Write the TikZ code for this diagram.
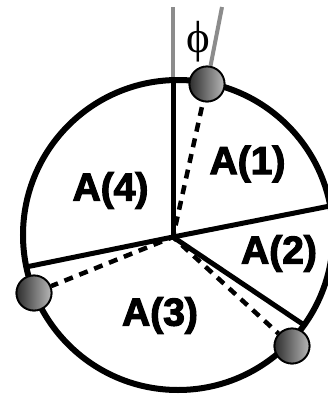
\documentclass[tikz,border=0pt]{standalone}
\usepackage{fontspec}
\setmainfont{Liberation Sans}
\newfontfamily\phifont{Liberation Serif}
\font\labfnt="Liberation Sans/B:embolden=3" at 39pt
\begin{document}
\begin{tikzpicture}[x=1pt,y=-1pt,
  rim/.style={line width=6pt,black},
  spoke/.style={line width=5pt,black},
  dashline/.style={line width=4.5pt,black,dash pattern=on 9pt off 7pt},
  greyline/.style={line width=4pt,black!45},
  ballnode/.style={circle,draw=black,line width=1.8pt,minimum size=35pt,inner sep=0pt,
    left color=black!82,right color=black!28},
  lab/.style={font=\labfnt,inner sep=0pt,anchor=center}]
\useasboundingbox (0,0) rectangle (328,400);
\fill[white] (0,0) rectangle (328,400);
% coordinates
\coordinate (c) at (178,235);
\coordinate (hub) at (173,237);
\coordinate (rtop) at (173,80);
\coordinate (rright) at (330,206);
\coordinate (rleft) at (26,267);
\coordinate (rlow) at (304,325);
\coordinate (g1) at (173,7);
\coordinate (g2) at (222,7);
% grey lines
\draw[greyline] (g1) -- (rtop);
% rim
\draw[rim] (c) circle[radius=155];
% spokes
\draw[spoke] (hub) -- (rtop);
\draw[spoke] (hub) -- (rright);
\draw[spoke] (hub) -- (rleft);
\draw[spoke] (hub) -- (rlow);
% balls (positions)
\path (207,84) node[ballnode] (b1) {};
\path (34,293) node[ballnode] (b2) {};
\path (292,346) node[ballnode] (b3) {};
\draw[greyline] (g2) -- (b1);
\draw[dashline,dash phase=4pt] (hub) -- (b1);
\draw[dashline,dash phase=4pt] (hub) -- (b2);
\draw[dashline,dash phase=4pt] (hub) -- (b3);
% redraw balls on top
\path (207,84) node[ballnode] {};
\path (34,293) node[ballnode] {};
\path (292,346) node[ballnode] {};
% labels
\node[lab] (a1) at (247.5,164) {A(1)};
\node[lab] (a4) at (110.5,190.5) {A(4)};
\node[lab] (a3) at (160,315.5) {A(3)};
\node[lab] (a2) at (279,253.5) {A(2)};
\node[font=\phifont\fontsize{45}{45}\selectfont,inner sep=0pt] (phi) at (198,42) {ϕ};
\end{tikzpicture}
\end{document}
